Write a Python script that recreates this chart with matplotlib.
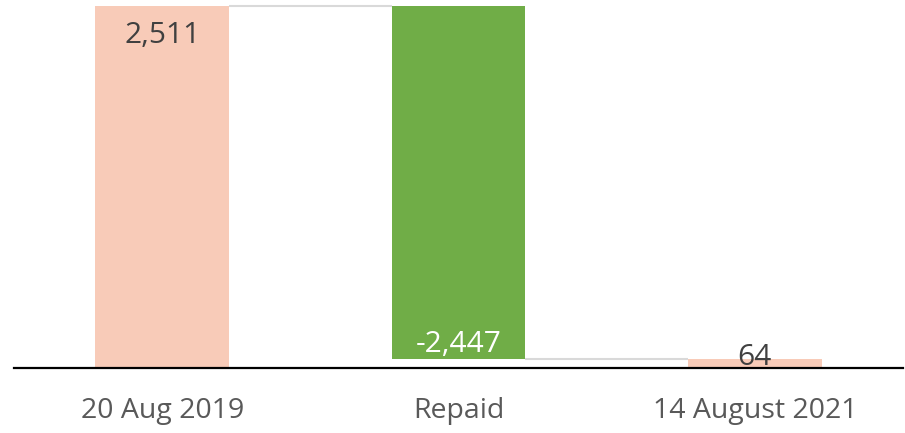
import numpy as np
import matplotlib
matplotlib.use('Agg')
import matplotlib.pyplot as plt

################## data ##################
categories = ['20 Aug 2019', 'Repaid', '14 August 2021']
changes = [2511, -2447, 64]
is_total = [True, False, True]
labels = ['2,511', '-2,447', '64']

plt.rcParams['font.family'] = ['Open Sans', 'DejaVu Sans']

salmon = '#F8CBB8'
green = '#70AD47'
connector = '#D9D9D9'

# waterfall positions
bottoms = []
heights = []
running = 0
for v, tot in zip(changes, is_total):
    if tot:
        bottoms.append(0)
        heights.append(v)
        running = v
    else:
        new = running + v
        bottoms.append(min(running, new))
        heights.append(abs(v))
        running = new
tops = [b + h for b, h in zip(bottoms, heights)]
colors = [salmon if t else green for t in is_total]

W, H = 905, 433
fig = plt.figure(figsize=(W / 100, H / 100), dpi=100)
ax = fig.add_axes([14 / W, (H - 368) / H, (903 - 14) / W, (368 - 6) / H])

x = np.arange(len(categories))
bw = 0.452
ax.bar(x, heights, bottom=bottoms, width=bw, color=colors, zorder=2)

# connectors
levels = [tops[0], bottoms[1]]
for i, lvl in enumerate(levels):
    ax.plot([x[i] + bw / 2, x[i + 1] - bw / 2], [lvl, lvl], color=connector,
            lw=1.5, zorder=1, clip_on=False, solid_capstyle='butt')

ax.set_xlim(-0.5, 2.5)
ax.set_ylim(0, 2511)

# data labels
fs = 21.5
ax.annotate(labels[0], (x[0], tops[0]), xytext=(0, -37), textcoords='offset pixels',
            ha='center', va='baseline', fontsize=fs, color='#404040')
ax.annotate(labels[1], (x[1], bottoms[1]), xytext=(0, 7), textcoords='offset pixels',
            ha='center', va='baseline', fontsize=fs, color='white')
ax.annotate(labels[2], (x[2], tops[2]), xytext=(0, -6), textcoords='offset pixels',
            ha='center', va='baseline', fontsize=fs, color='#404040', zorder=3)

for s in ['top', 'right', 'left']:
    ax.spines[s].set_visible(False)
ax.spines['bottom'].set_linewidth(1.6)
ax.spines['bottom'].set_color('black')
ax.spines['bottom'].set_zorder(4)
ax.set_yticks([])
ax.set_xticks(x)
ax.set_xticklabels(categories, fontsize=20.5, color='#595959')
ax.tick_params(axis='x', length=0, pad=21)

fig.savefig('out.png', dpi=100)
